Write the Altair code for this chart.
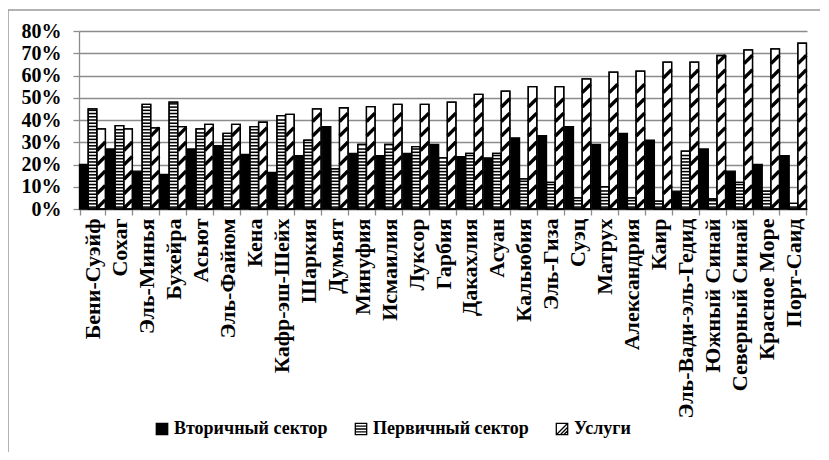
import altair as alt
import pandas as pd

categories = [
    "Бени-Суэйф", "Сохаг", "Эль-Минья", "Бухейра", "Асьют", "Эль-Файюм", "Кена",
    "Кафр-эш-Шейх", "Шаркия", "Думьят", "Минуфия", "Исмаилия", "Луксор", "Гарбия",
    "Дакахлия", "Асуан", "Кальюбия", "Эль-Гиза", "Суэц", "Матрух", "Александрия",
    "Каир", "Эль-Вади-эль-Гедид", "Южный Синай", "Северный Синай", "Красное Море",
    "Порт-Саид",
]
secondary = [20, 27, 17, 15.5, 27, 28.5, 24.5, 16.5, 24, 37, 25, 24, 25, 29,
             23.5, 23, 32, 33, 37, 29, 34, 31, 8, 27, 17, 20, 24]
primary = [45, 37.5, 47, 48, 36, 34, 37, 42, 31, 18, 29, 29, 28, 23,
           25, 25, 13.5, 12, 5, 10, 5, 3.5, 26, 4.5, 12, 8, 2.5]
services = [36, 36, 36.5, 37, 38, 38, 39, 42.5, 45, 45.5, 46, 47, 47, 48,
            51.5, 53, 55, 55, 58.5, 61.5, 62, 66, 66, 69, 71.5, 72, 74.5]
series_names = ["Вторичный сектор", "Первичный сектор", "Услуги"]

FONT = "Liberation Serif"
GRID = "#8c8c8c"

# long table of bars
rows = []
for c, a, b, s in zip(categories, secondary, primary, services):
    rows.append({"cat": c, "series": series_names[0], "value": a})
    rows.append({"cat": c, "series": series_names[1], "value": b})
    rows.append({"cat": c, "series": series_names[2], "value": s})
bars = pd.DataFrame(rows)

# horizontal stripe pattern for the primary sector (derived from the values)
STRIPE_PERIOD = 1.45
STRIPE_ON = 0.7
stripe_rows = []
for c, v in zip(categories, primary):
    k = 0
    while True:
        lo = 0.5 + k * STRIPE_PERIOD
        hi = lo + STRIPE_ON
        if hi > v - 0.3:
            break
        stripe_rows.append({"cat": c, "series": series_names[1], "lo": lo, "hi": hi})
        k += 1
stripes = pd.DataFrame(stripe_rows)

# diagonal hatch pattern for services (derived from the values)
HATCH_PERIOD = 6.5
HATCH_HALF = 1.9
hatch_rows = []
for c, v in zip(categories, services):
    m = 2.2
    while m + HATCH_HALF <= v + 0.2:
        hatch_rows.append({"cat": c, "series": series_names[2], "mid": m})
        m += HATCH_PERIOD
hatch = pd.DataFrame(hatch_rows)

x_axis = alt.Axis(
    title=None, grid=False, tickBand="extent", tickSize=6, labelAngle=270,
    labelFont=FONT, labelFontWeight="bold", labelFontSize=22, labelColor="black",
    labelPadding=3, labelLimit=260,
)
y_axis = alt.Axis(
    title=None, values=list(range(0, 81, 10)), labelExpr="datum.value + '%'",
    grid=True, tickSize=6, labelFont=FONT, labelFontWeight="bold", labelFontSize=20,
    labelColor="black", labelPadding=12,
)

def X():
    return alt.X("cat:N", sort=categories,
                 scale=alt.Scale(paddingInner=0.04, paddingOuter=0.02), axis=x_axis)

def XO():
    return alt.XOffset("series:N", scale=alt.Scale(domain=series_names))

def Y(field):
    return alt.Y(field, scale=alt.Scale(domain=[0, 80], nice=False), axis=y_axis)

legend_paths = [
    "M-1,-1H1V1H-1Z",
    "M-1,-1H1V1H-1Z M-1,-0.5H1 M-1,0H1 M-1,0.5H1",
    "M-1,-1H1V1H-1Z M1,-1L-1,1 M1,-0.3L-0.3,1 M1,0.3L0.3,1",
]
shape_expr = (
    f"datum.value == '{series_names[0]}' ? '{legend_paths[0]}' : "
    f"datum.value == '{series_names[1]}' ? '{legend_paths[1]}' : '{legend_paths[2]}'"
)
leg = alt.Legend(
    title=None, orient="none", legendX=74, legendY=389, direction="horizontal",
    columnPadding=24, symbolSize=130,
    symbolType=alt.ExprRef(expr=shape_expr),
    symbolStrokeColor="black", symbolStrokeWidth=1.3,
    labelFont=FONT, labelFontWeight="bold", labelFontSize=18, labelColor="black",
    labelOffset=3, labelLimit=300,
)

base_bars = alt.Chart(bars).mark_bar(stroke="black", strokeWidth=1.3).encode(
    x=X(), xOffset=XO(), y=Y("value:Q"),
    color=alt.Color("series:N", scale=alt.Scale(domain=series_names,
                    range=["#000000", "#ffffff", "#ffffff"]), legend=leg),
)

stripe_layer = alt.Chart(stripes).mark_bar(color="black", strokeWidth=0).encode(
    x=X(), xOffset=XO(), y=Y("lo:Q"), y2="hi:Q",
)

hatch_layer = alt.Chart(hatch).mark_point(
    shape="M-1,1L1,-1", size=70, filled=False, color="black", strokeWidth=3.4, opacity=1,
).encode(x=X(), xOffset=XO(), y=Y("mid:Q"))

outline = alt.Chart(bars).mark_bar(
    fillOpacity=0, stroke="black", strokeWidth=1.3
).transform_filter(
    alt.datum.series != series_names[0]
).encode(x=X(), xOffset=XO(), y=Y("value:Q"))

frame_df = pd.DataFrame({"k": [0]})
frame_left = alt.Chart(frame_df).mark_rule(color="#999999", strokeWidth=1.5).encode(
    x=alt.value(-71), y=alt.value(-21), y2=alt.value(430)
)
frame_top = alt.Chart(frame_df).mark_rule(color="#999999", strokeWidth=1.5).encode(
    x=alt.value(-71), x2=alt.value(760), y=alt.value(-21)
)

chart = alt.layer(
    base_bars, stripe_layer, hatch_layer, outline, frame_left, frame_top
).properties(
    width=728, height=178,
    autosize=alt.AutoSizeParams(type="none"),
    padding={"left": 71, "top": 23, "right": 13, "bottom": 243},
).configure_view(stroke=None).configure_axis(
    gridColor=GRID, gridWidth=1.3, domainColor=GRID, domainWidth=1.3,
    tickColor=GRID, tickWidth=1.3,
)

chart.save("out.html", embed_options={"renderer": "svg", "actions": False})
